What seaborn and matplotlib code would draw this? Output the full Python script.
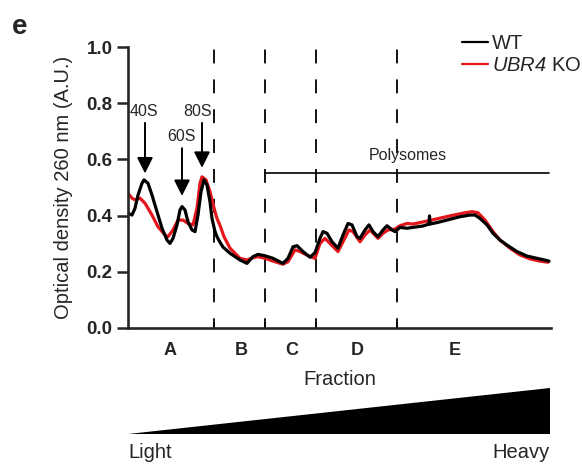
import matplotlib
matplotlib.use("Agg")
import matplotlib.pyplot as plt
from matplotlib.lines import Line2D
import seaborn as sns
import pandas as pd

# ---------------- data ----------------
wt_pos = [0.0, 0.4, 0.7, 1.0, 1.4, 1.6, 2.0, 2.4, 2.9, 3.4, 3.9, 4.2, 4.5, 4.9, 5.2,
          5.4, 5.7, 6.0, 6.4, 6.7, 7.0, 7.3, 7.6, 7.9, 8.2, 8.4, 8.7, 8.9, 9.2, 9.5,
          10.2, 11.2, 11.9, 12.5, 13.0, 13.7, 14.5, 15.5, 16.0, 16.5, 16.9, 17.5,
          18.2, 18.7, 19.2, 19.5, 19.9, 20.4, 21.0, 21.5, 22.0, 22.4, 22.9, 23.2,
          23.7, 24.1, 24.5, 25.0, 25.5, 25.9, 26.4, 26.7, 27.2, 27.9, 28.5, 29.5,
          30.1, 30.15, 30.2, 30.9, 32.2, 33.2, 34.2, 34.7, 35.2, 35.9, 36.5, 37.2,
          37.9, 38.9, 39.9, 40.9, 41.9, 42.1]
wt_od = [0.408, 0.402, 0.426, 0.473, 0.515, 0.527, 0.515, 0.473, 0.414, 0.355, 0.313,
         0.301, 0.319, 0.367, 0.42, 0.432, 0.42, 0.378, 0.349, 0.343, 0.402, 0.485,
         0.527, 0.509, 0.449, 0.39, 0.343, 0.325, 0.305, 0.288, 0.266, 0.242, 0.23,
         0.254, 0.262, 0.257, 0.248, 0.23, 0.248, 0.289, 0.293, 0.272, 0.252, 0.268,
         0.319, 0.343, 0.337, 0.307, 0.284, 0.331, 0.372, 0.367, 0.325, 0.319, 0.349,
         0.367, 0.343, 0.325, 0.349, 0.364, 0.349, 0.343, 0.358, 0.355, 0.358, 0.363,
         0.37, 0.399, 0.37, 0.375, 0.387, 0.396, 0.402, 0.402, 0.39, 0.367, 0.337,
         0.313, 0.295, 0.272, 0.256, 0.248, 0.24, 0.238]

ko_pos = [0.0, 0.4, 0.7, 1.2, 1.7, 2.4, 3.0, 3.7, 4.0, 4.5, 5.0, 5.5, 6.0, 6.5, 6.9,
          7.2, 7.4, 7.8, 8.2, 8.7, 8.9, 9.2, 9.6, 10.2, 11.2, 11.9, 12.5, 13.0, 13.7,
          14.5, 15.5, 16.0, 16.7, 17.2, 18.2, 18.7, 19.2, 19.7, 20.2, 21.0, 21.5,
          22.1, 22.5, 23.2, 23.7, 24.2, 25.0, 25.5, 26.0, 26.7, 27.2, 27.9, 28.5,
          30.1, 32.2, 33.7, 34.4, 35.0, 35.7, 36.5, 37.2, 38.2, 39.2, 40.2, 41.2, 42.0]
ko_od = [0.479, 0.462, 0.456, 0.462, 0.444, 0.402, 0.36, 0.331, 0.325, 0.349, 0.384,
         0.384, 0.372, 0.367, 0.426, 0.515, 0.538, 0.527, 0.485, 0.414, 0.39, 0.365,
         0.325, 0.284, 0.248, 0.242, 0.25, 0.254, 0.248, 0.238, 0.227, 0.236, 0.278,
         0.272, 0.254, 0.248, 0.301, 0.319, 0.301, 0.272, 0.307, 0.349, 0.343, 0.307,
         0.331, 0.349, 0.319, 0.337, 0.349, 0.352, 0.364, 0.372, 0.37, 0.382, 0.399,
         0.41, 0.414, 0.41, 0.384, 0.343, 0.313, 0.284, 0.26, 0.246, 0.238, 0.234]

fraction_bounds = [8.6, 13.7, 18.8, 26.9]
fraction_labels = ["A", "B", "C", "D", "E"]
fraction_label_pos = [4.2, 11.3, 16.4, 22.9, 32.7]

peak_names = ["40S", "60S", "80S"]
peak_pos = [1.7, 5.4, 7.4]
peak_tip = [0.55, 0.47, 0.57]
peak_tail = [0.73, 0.64, 0.73]
peak_label_pos = [1.6, 5.4, 7.0]
peak_label_y = [0.77, 0.68, 0.77]

polysome_start, polysome_end, polysome_y = 13.7, 42.1, 0.552
polysome_label_pos, polysome_label_y = 28.0, 0.615

x_max = 42.3
y_ticks = [0.0, 0.2, 0.4, 0.6, 0.8, 1.0]

# ---------------- styling ----------------
sns.set_style("ticks")
plt.rcParams["font.family"] = ["Liberation Sans", "DejaVu Sans"]
plt.rcParams["mathtext.fontset"] = "custom"
plt.rcParams["mathtext.rm"] = "Liberation Sans:italic"
plt.rcParams["mathtext.it"] = "Liberation Sans:italic"
plt.rcParams["lines.scale_dashes"] = False

RED = "#e3161c"

fig = plt.figure(figsize=(5.82, 4.65), dpi=100)
ax = fig.add_axes([128 / 582, 1 - 328 / 465, 423 / 582, 281 / 465])

df = pd.concat([
    pd.DataFrame({"pos": ko_pos, "od": ko_od, "genotype": "UBR4 KO"}),
    pd.DataFrame({"pos": wt_pos, "od": wt_od, "genotype": "WT"}),
], ignore_index=True)

sns.lineplot(data=df, x="pos", y="od", hue="genotype",
             hue_order=["UBR4 KO", "WT"],
             palette={"WT": "black", "UBR4 KO": RED},
             estimator=None, sort=False, lw=2.3, legend=False, ax=ax,
             solid_joinstyle="round", solid_capstyle="round")

# fraction boundaries
for b in fraction_bounds:
    ax.plot([b, b], [0, 1.0], color="black", lw=1.3,
            linestyle=(3, (10, 11.5)), zorder=1)

# polysome bar
ax.plot([polysome_start, polysome_end], [polysome_y, polysome_y], color="black", lw=1.2)
ax.text(polysome_label_pos, polysome_label_y, "Polysomes", ha="center", va="center",
        fontsize=11.5)

# peak arrows
for name, px, tip, tail, lx, ly in zip(peak_names, peak_pos, peak_tip, peak_tail,
                                       peak_label_pos, peak_label_y):
    ax.annotate("", xy=(px, tip), xytext=(px, tail),
                arrowprops=dict(arrowstyle="-|>", lw=1.4, color="black",
                                mutation_scale=24, shrinkA=0, shrinkB=0))
    ax.text(lx, ly, name, ha="center", va="center", fontsize=11.5)

ax.set_xlim(0, x_max)
ax.set_ylim(0, 1.0)
ax.set_yticks(y_ticks)
ax.set_yticklabels([f"{v:.1f}" for v in y_ticks], fontweight="bold", fontsize=13.5)
ax.set_xticks(fraction_label_pos)
ax.set_xticklabels(fraction_labels, fontweight="bold", fontsize=13)
ax.set_xticks(fraction_bounds, minor=True)
ax.tick_params(axis="x", which="major", length=0, pad=10)
ax.tick_params(axis="x", which="minor", length=4, width=1.3, direction="in")
ax.tick_params(axis="y", length=8, width=1.8, pad=3)
ax.set_xlabel("Fraction", fontsize=14.5, labelpad=8)
ax.set_ylabel("Optical density 260 nm (A.U.)", fontsize=14.5, labelpad=10)
sns.despine(ax=ax)
for s in ["left", "bottom"]:
    ax.spines[s].set_linewidth(1.9)

# legend
handles = [Line2D([0], [0], color="black", lw=1.6),
           Line2D([0], [0], color=RED, lw=1.6)]
fig.legend(handles, ["WT", r"$\mathrm{UBR4}$ KO"], loc="upper left",
           bbox_to_anchor=(452 / 582, 1 - 24 / 465), frameon=False, fontsize=14.5,
           handlelength=1.3, handletextpad=0.2, labelspacing=0.15, borderpad=0)

# density gradient wedge
axg = fig.add_axes([128 / 582, 1 - 434 / 465, 422 / 582, 46 / 465])
axg.fill([0, 1, 1], [0, 1, 0], color="black", lw=0)
axg.set_xlim(0, 1)
axg.set_ylim(0, 1)
axg.axis("off")

fig.text(128 / 582, 1 - 452 / 465, "Light", ha="left", va="center", fontsize=14.5)
fig.text(550 / 582, 1 - 452 / 465, "Heavy", ha="right", va="center", fontsize=14.5)
fig.text(12 / 582, 1 - 27 / 465, "e", ha="left", va="center", fontsize=20,
         fontweight="bold")

fig.savefig("out.png", dpi=100)
